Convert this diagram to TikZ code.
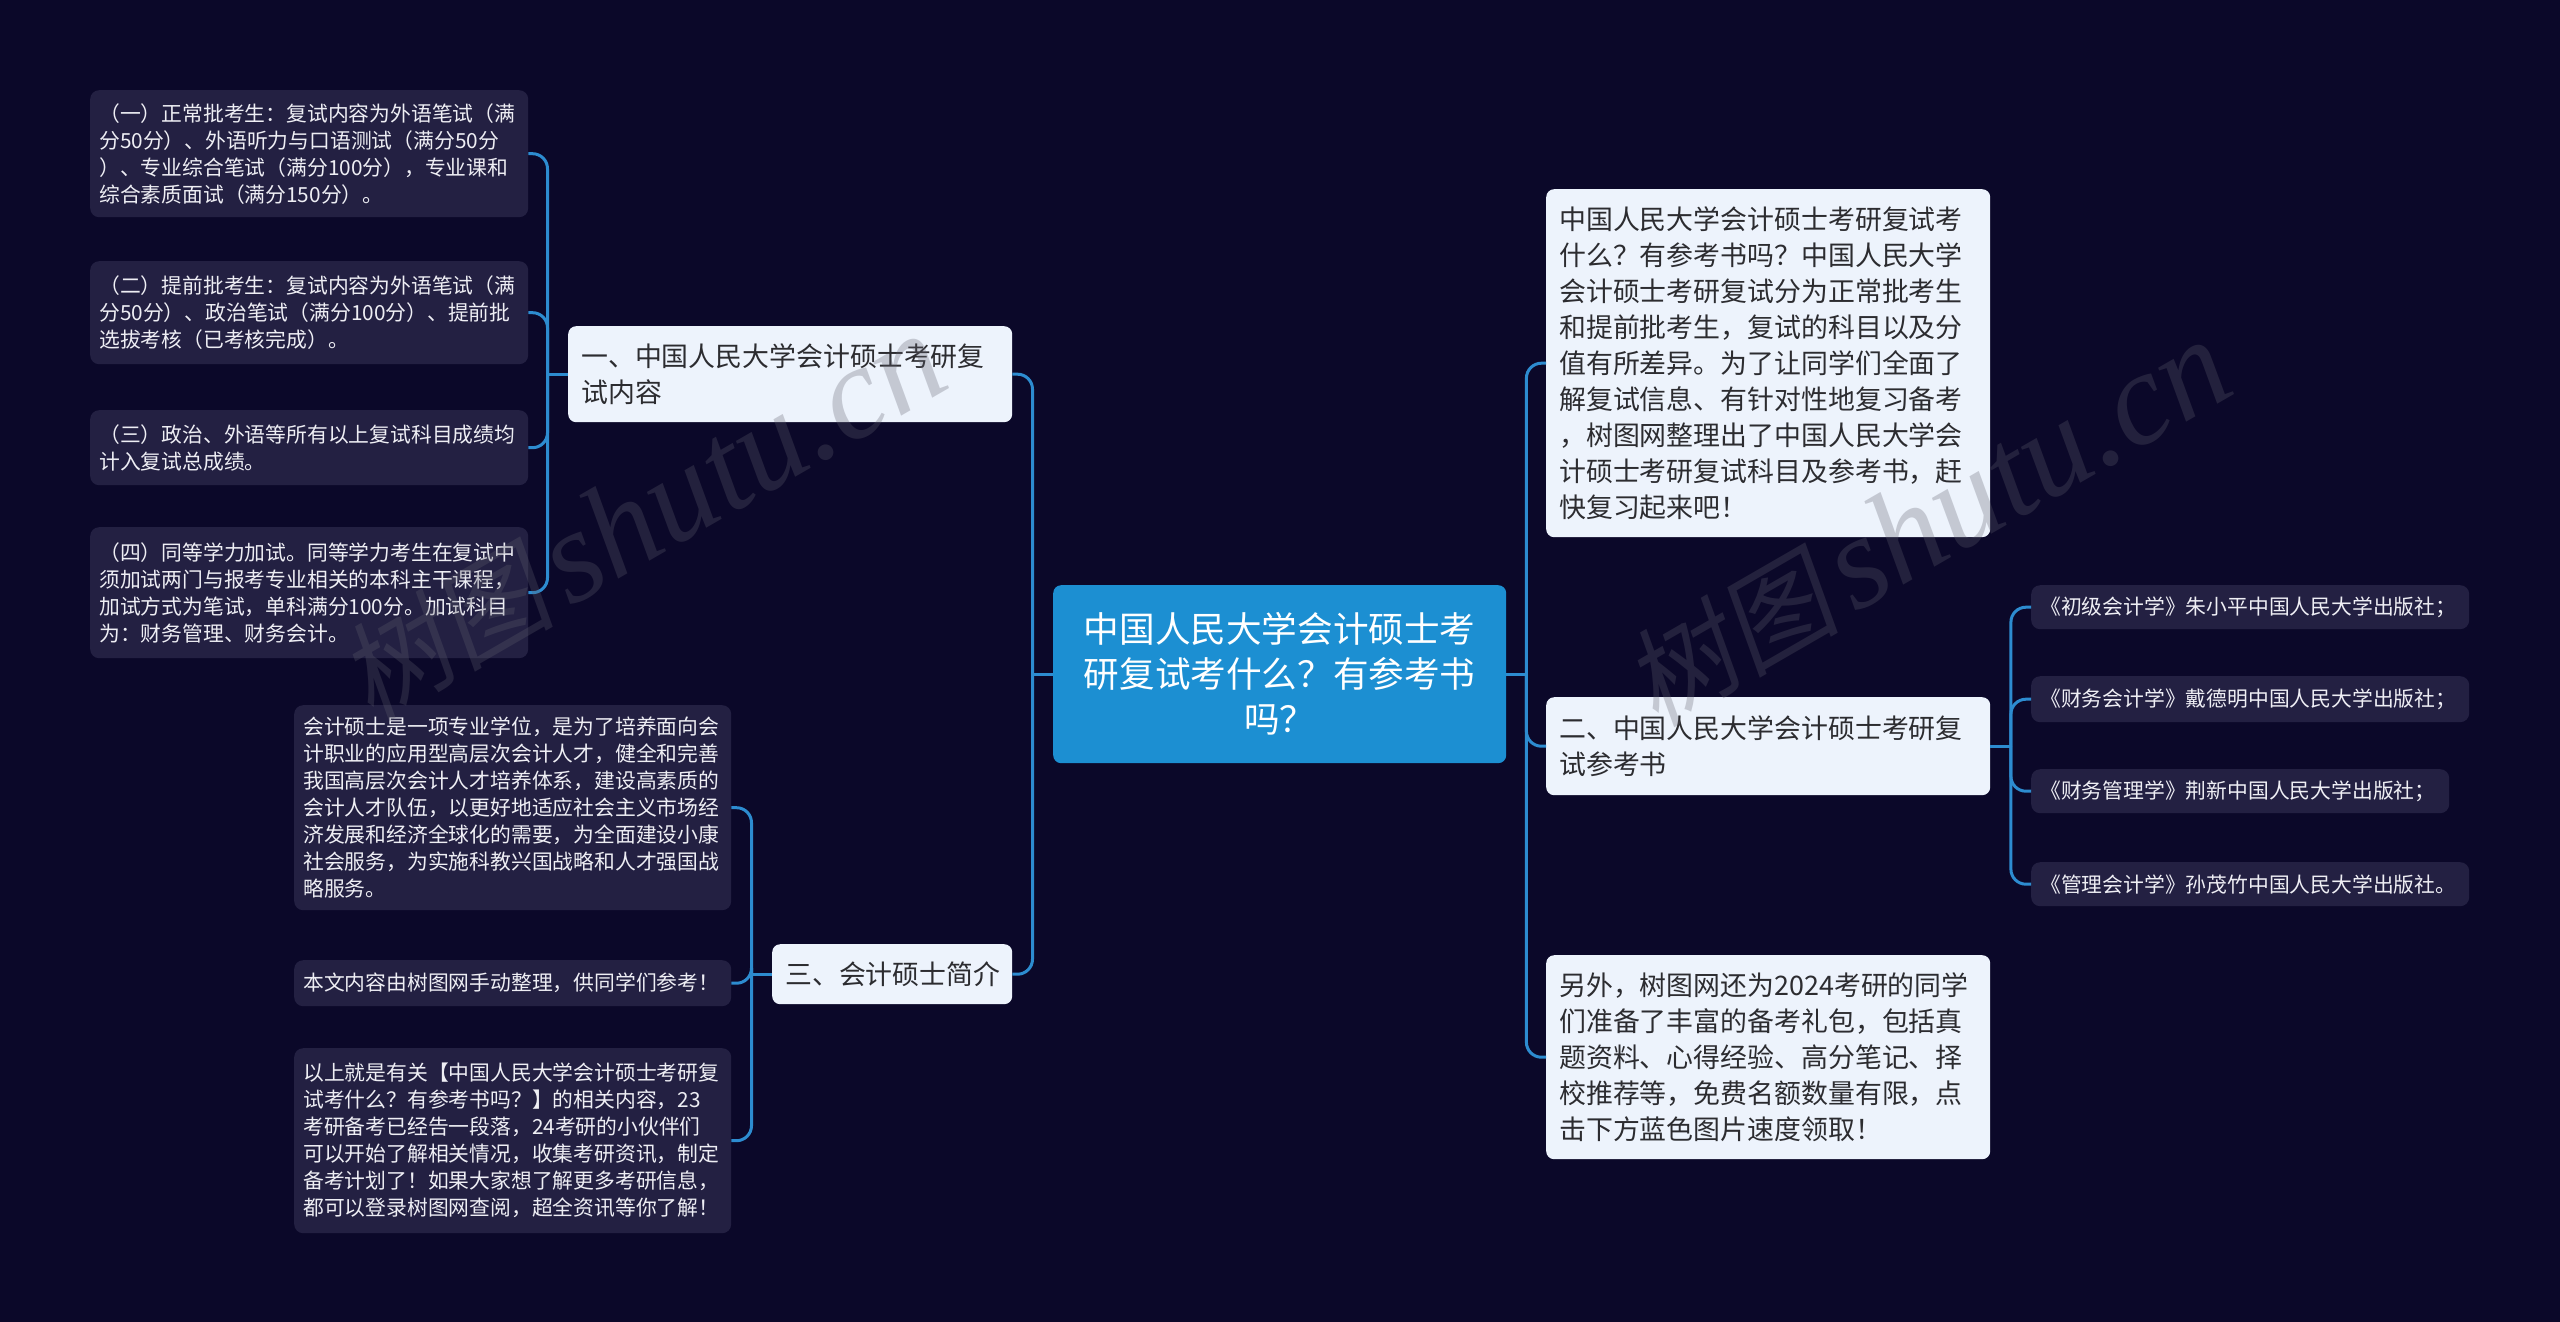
\documentclass[tikz,border=0pt]{standalone}
\usepackage{fontspec}
\setmainfont{Noto Sans CJK SC}
\newfontfamily\wmlat{Liberation Serif}
\newfontfamily\wmcjk[FakeSlant=0.18]{Noto Sans CJK SC}
\usetikzlibrary{calc}
\definecolor{bgc}{HTML}{0B0829}
\definecolor{leafc}{HTML}{232042}
\definecolor{boxc}{HTML}{EDF3FC}
\definecolor{ctrc}{HTML}{1C8FD2}
\definecolor{linec}{HTML}{2D8CD0}
\definecolor{leaftxt}{HTML}{EEEEF4}
\definecolor{boxtxt}{HTML}{2C2C30}
\definecolor{wmc}{RGB}{96,96,110}
\tikzset{
  base/.style={anchor=north west, inner ysep=0pt, align=left},
  leaf/.style={base, fill=leafc, rounded corners=9pt, text=leaftxt, font=\fontsize{20.8pt}{27pt}\selectfont, inner xsep=9pt},
  midbox/.style={base, fill=boxc, rounded corners=8pt, text=boxtxt, font=\fontsize{26.9pt}{36pt}\selectfont, inner xsep=13pt},
  ctrbox/.style={base, align=center, fill=ctrc, rounded corners=8pt, text=white, font=\fontsize{35.6pt}{45pt}\selectfont, inner xsep=20pt},
  conn/.style={draw=linec, line width=3pt, rounded corners=15pt},
  wm/.style={text=wmc, text opacity=0.29, inner sep=0pt}
}
\begin{document}
\begin{tikzpicture}[x=1pt,y=-1pt]
\fill[bgc] (0,0) rectangle (2560,1322);
% centre
\node[ctrbox, text width=413pt, minimum height=178pt] (ctr) at (1053,585) {中国人民大学会计硕士考\\研复试考什么？有参考书\\吗？};
% left branch 1
\node[midbox, text width=418pt, minimum height=96pt] (b1) at (568,326) {一、中国人民大学会计硕士考研复\\试内容};
\node[leaf, text width=420pt, minimum height=127pt] (l1) at (90,90) {（一）正常批考生：复试内容为外语笔试（满\\分50分）、外语听力与口语测试（满分50分\\）、专业综合笔试（满分100分），专业课和\\综合素质面试（满分150分）。};
\node[leaf, text width=420pt, minimum height=103pt] (l2) at (90,261) {（二）提前批考生：复试内容为外语笔试（满\\分50分）、政治笔试（满分100分）、提前批\\选拔考核（已考核完成）。};
\node[leaf, text width=420pt, minimum height=75pt] (l3) at (90,410) {（三）政治、外语等所有以上复试科目成绩均\\计入复试总成绩。};
\node[leaf, text width=420pt, minimum height=131pt] (l4) at (90,527) {（四）同等学力加试。同等学力考生在复试中\\须加试两门与报考专业相关的本科主干课程，\\加试方式为笔试，单科满分100分。加试科目\\为：财务管理、财务会计。};
% left branch 3
\node[midbox, text width=214pt, minimum height=60pt] (b3) at (772,944) {三、会计硕士简介};
\node[leaf, text width=419pt, minimum height=205pt] (l5) at (294,705) {会计硕士是一项专业学位，是为了培养面向会\\计职业的应用型高层次会计人才，健全和完善\\我国高层次会计人才培养体系，建设高素质的\\会计人才队伍，以更好地适应社会主义市场经\\济发展和经济全球化的需要，为全面建设小康\\社会服务，为实施科教兴国战略和人才强国战\\略服务。};
\node[leaf, text width=419pt, minimum height=46pt] (l6) at (294,960) {本文内容由树图网手动整理，供同学们参考！};
\node[leaf, text width=419pt, minimum height=185pt] (l7) at (294,1048) {以上就是有关【中国人民大学会计硕士考研复\\试考什么？有参考书吗？】的相关内容，23\\考研备考已经告一段落，24考研的小伙伴们\\可以开始了解相关情况，收集考研资讯，制定\\备考计划了！如果大家想了解更多考研信息，\\都可以登录树图网查阅，超全资讯等你了解！};
% right side
\node[midbox, text width=418pt, minimum height=348pt] (r1) at (1546,189) {中国人民大学会计硕士考研复试考\\什么？有参考书吗？中国人民大学\\会计硕士考研复试分为正常批考生\\和提前批考生，复试的科目以及分\\值有所差异。为了让同学们全面了\\解复试信息、有针对性地复习备考\\，树图网整理出了中国人民大学会\\计硕士考研复试科目及参考书，赶\\快复习起来吧！};
\node[midbox, text width=418pt, minimum height=98pt] (b2) at (1546,697) {二、中国人民大学会计硕士考研复\\试参考书};
\node[midbox, text width=418pt, minimum height=204pt] (r3) at (1546,955) {另外，树图网还为2024考研的同学\\们准备了丰富的备考礼包，包括真\\题资料、心得经验、高分笔记、择\\校推荐等，免费名额数量有限，点\\击下方蓝色图片速度领取！};
\node[leaf, text width=420pt, minimum height=44pt] (k1) at (2031,585) {《初级会计学》朱小平中国人民大学出版社；};
\node[leaf, text width=420pt, minimum height=46pt] (k2) at (2031,676) {《财务会计学》戴德明中国人民大学出版社；};
\node[leaf, text width=400pt, minimum height=44pt] (k3) at (2031,769) {《财务管理学》荆新中国人民大学出版社；};
\node[leaf, text width=420pt, minimum height=44pt] (k4) at (2031,862) {《管理会计学》孙茂竹中国人民大学出版社。};
% connectors
\coordinate (jL) at ($(ctr.west)+(-20.5,0)$);
\coordinate (jR) at ($(ctr.east)+(20,0)$);
\coordinate (j1) at ($(b1.west)+(-20.5,0)$);
\coordinate (j2) at ($(b2.east)+(20.5,0)$);
\coordinate (j3) at ($(b3.west)+(-20.5,0)$);
\draw[conn] (ctr.west) -- (jL);
\draw[conn] (jL) |- (b1.east);
\draw[conn] (jL) |- (b3.east);
\draw[conn] (ctr.east) -- (jR);
\draw[conn] (jR) |- (r1.west);
\draw[conn] (jR) |- (b2.west);
\draw[conn] (jR) |- (r3.west);
\draw[conn] (b1.west) -- (j1);
\foreach \n in {l1,l2,l3,l4} {\draw[conn] (j1) |- (\n.east);}
\draw[conn] (b3.west) -- (j3);
\foreach \n in {l5,l6,l7} {\draw[conn] (j3) |- (\n.east);}
\draw[conn] (b2.east) -- (j2);
\foreach \n in {k1,k2,k3,k4} {\draw[conn] (j2) |- (\n.west);}
% watermarks
\node[wm, rotate=30] (wm1) at (642,518) {{\wmcjk\fontsize{108pt}{108pt}\selectfont 树图}\hspace{14pt}{\wmlat\itshape\fontsize{132pt}{132pt}\selectfont shutu.cn}};
\node[wm, rotate=30] (wm2) at (1927,524) {{\wmcjk\fontsize{108pt}{108pt}\selectfont 树图}\hspace{14pt}{\wmlat\itshape\fontsize{132pt}{132pt}\selectfont shutu.cn}};
\end{tikzpicture}
\end{document}
